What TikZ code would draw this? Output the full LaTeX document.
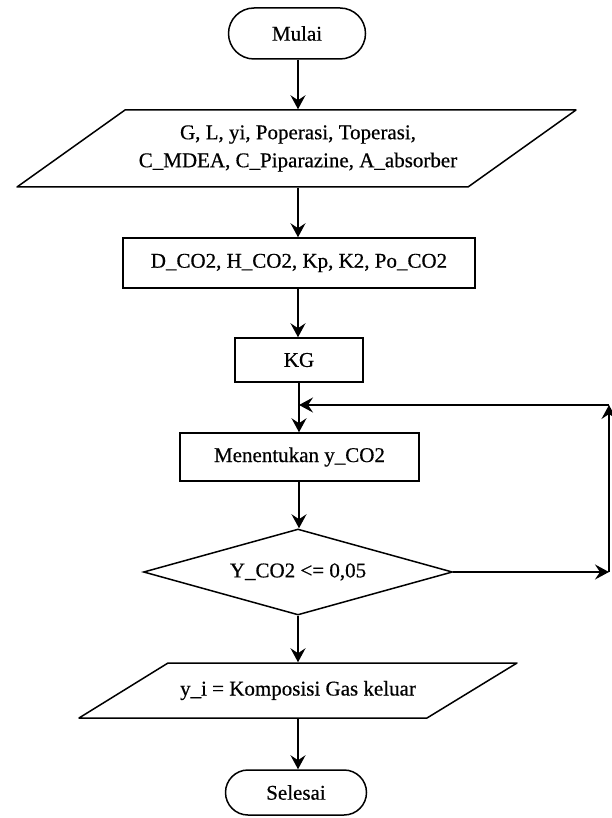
\documentclass[tikz,border=0pt]{standalone}
\usepackage{fontspec}
\setmainfont{Liberation Serif}[FakeBold=0.5]
\usetikzlibrary{shapes.geometric,shapes.misc,arrows.meta}
\begin{document}
\begin{tikzpicture}[x=1pt,y=-1pt,line width=1.5pt,
  every node/.style={font=\fontsize{21}{28}\selectfont, inner sep=0pt},
  term/.style={draw, rounded rectangle},
  proc/.style={draw, rectangle},
  iobox/.style={rectangle, draw=none, align=center},
  dec/.style={draw, diamond, aspect=3.6},
  arr/.style={-{Stealth[length=14pt,width=15pt,inset=5pt]}},
  pline/.style={line join=round}]
\useasboundingbox (0,0) rectangle (611,818);
\fill[white] (0,0) rectangle (611,818);

% nodes
\node[term, minimum width=137pt, minimum height=51pt] (mulai) at (297,33.5) {Mulai};
\node[iobox, minimum width=340pt, minimum height=77pt] (in1) at (298,148.5)
  {G, L, yi, Poperasi, Toperasi,\\C\_MDEA, C\_Piparazine, A\_absorber};
\draw[pline] (125,110) -- (576,110) -- (468,187) -- (17,187) -- cycle;
\node[proc, minimum width=352pt, minimum height=50pt] (dco) at (299,263) {D\_CO2, H\_CO2, Kp, K2, Po\_CO2};
\node[proc, minimum width=128pt, minimum height=44pt] (kg) at (299,360) {KG};
\node[proc, minimum width=239pt, minimum height=48pt] (ycal) at (299.5,457) {Menentukan y\_CO2};
\node[dec, minimum width=309pt, minimum height=86pt] (cek) at (298,572) {Y\_CO2 <= 0,05};
\node[iobox, minimum width=340pt, minimum height=55pt] (out) at (298,690.5) {y\_i = Komposisi Gas keluar};
\draw[pline] (168,663) -- (517,663) -- (427,718) -- (79,718) -- cycle;
\node[term, minimum width=141pt, minimum height=45pt] (selesai) at (296,792.5) {Selesai};

% coordinates for the loop
\coordinate (loopR) at (609,572);
\coordinate (loopT) at (609,405);
\coordinate (join) at (299,405);

% connectors
\draw[arr] (mulai.south -| 298,0) -- (in1.north -| 298,0);
\draw[arr] (in1.south -| 298,0) -- (dco.north -| 298,0);
\draw[arr] (dco.south -| 298,0) -- (kg.north -| 298,0);
\draw[arr] (kg.south -| 299,0) -- (join) -- (ycal.north -| 299,0);
\draw[arr] (ycal.south -| 299,0) -- (cek.north -| 299,0);
\draw[arr] (cek.east) -- (loopR);
\draw[arr] (loopR) -- (loopT);
\draw[arr] (loopT) -- (join);
\draw[arr] (cek.south -| 298,0) -- (out.north -| 298,0);
\draw[arr] (out.south -| 298,0) -- (selesai.north -| 298,0);
\end{tikzpicture}
\end{document}
